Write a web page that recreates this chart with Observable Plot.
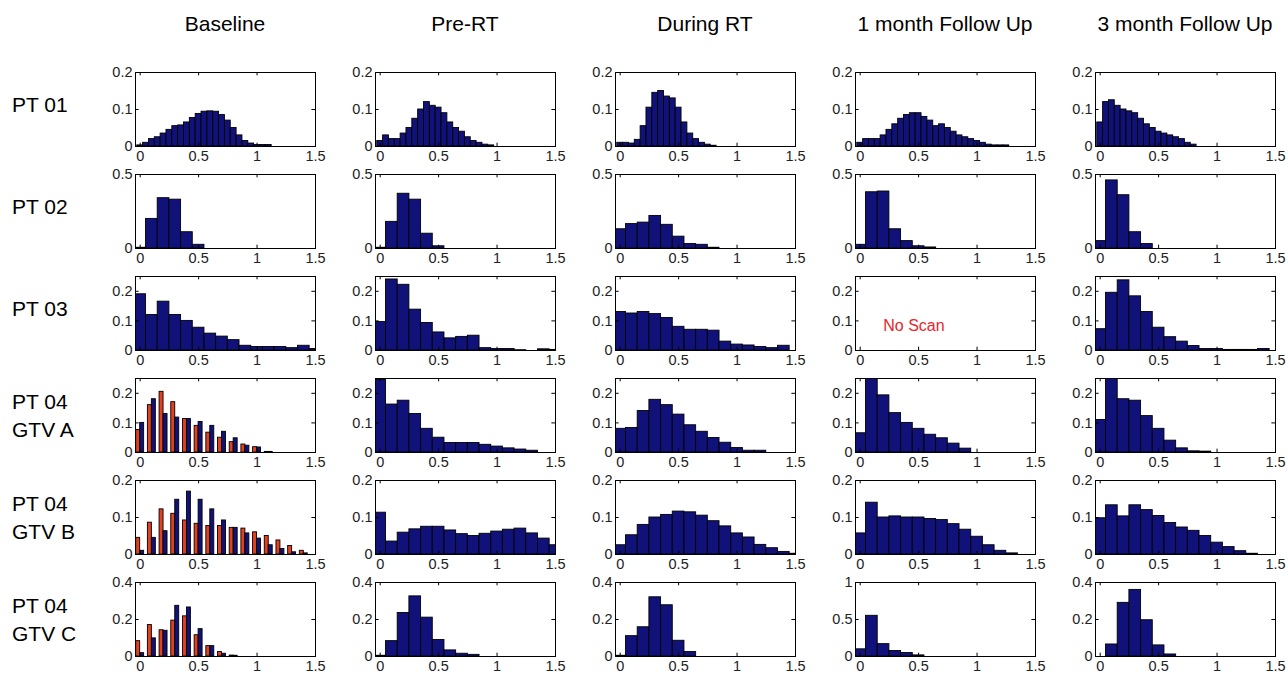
<!DOCTYPE html>
<html><head><meta charset="utf-8">
<script src="https://cdn.jsdelivr.net/npm/d3@7"></script>
<script src="https://cdn.jsdelivr.net/npm/@observablehq/plot@0.6"></script>
<style>
body{margin:0;background:#fff;}
#root{position:relative;width:1288px;height:678px;font-family:"Liberation Sans",Arial,sans-serif;color:#000;overflow:hidden;}
.coltitle{position:absolute;top:12px;font-size:21px;transform:translateX(-50%);white-space:nowrap;}
.rowlabel{position:absolute;left:12px;font-size:21px;line-height:28px;transform:translateY(-50%);white-space:nowrap;}
.panel{position:absolute;}
</style></head><body><div id="root"></div>
<script>
// ---------- labels / ticks ----------
const columns = ["Baseline", "Pre-RT", "During RT", "1 month Follow Up", "3 month Follow Up"];
const rowNames = [["PT 01"], ["PT 02"], ["PT 03"], ["PT 04", "GTV A"], ["PT 04", "GTV B"], ["PT 04", "GTV C"]];
const xTicks = [0, 0.5, 1, 1.5];
const xDomain = [-0.04, 1.5];
const yMaxByRow = [0.2, 0.5, 0.25, 0.25, 0.2, 0.4];
const yTicksByRow = [[0, 0.1, 0.2], [0, 0.5], [0, 0.1, 0.2], [0, 0.1, 0.2], [0, 0.1, 0.2], [0, 0.2, 0.4]];
const binWidthByRow = [0.05, 0.1, 0.1, 0.1, 0.1, 0.1];
const gtvCMonth1YMax = 1;
const gtvCMonth1YTicks = [0, 0.5, 1];
const noScanText = "No Scan";

// ---------- PT 01 (bin 0.05) ----------
const pt01Baseline = [0.003,0.01,0.02,0.025,0.035,0.045,0.055,0.057,0.065,0.077,0.088,0.094,0.095,0.094,0.085,0.07,0.05,0.03,0.015,0.008,0.004,0.004,0.004];
const pt01PreRT    = [0.015,0.03,0.02,0.02,0.035,0.05,0.075,0.1,0.12,0.11,0.105,0.09,0.065,0.05,0.04,0.025,0.015,0.01,0.005,0.003];
const pt01DuringRT = [0.01,0.01,0.008,0.018,0.055,0.105,0.145,0.15,0.135,0.13,0.105,0.065,0.035,0.02,0.01,0.005,0.002];
const pt01Month1   = [0.01,0.02,0.02,0.02,0.03,0.045,0.06,0.075,0.085,0.09,0.09,0.08,0.07,0.055,0.06,0.05,0.04,0.03,0.025,0.02,0.015,0.01,0.005,0.003,0.003,0.003];
const pt01Month3   = [0.065,0.12,0.125,0.11,0.1,0.095,0.09,0.075,0.06,0.05,0.04,0.035,0.03,0.025,0.02,0.01,0.005];
// ---------- PT 02 ----------
const pt02Baseline = [0.005,0.2,0.34,0.33,0.11,0.025];
const pt02PreRT    = [0.005,0.18,0.37,0.33,0.1,0.015];
const pt02DuringRT = [0.13,0.165,0.175,0.22,0.16,0.08,0.03,0.025,0.005];
const pt02Month1   = [0.025,0.38,0.385,0.13,0.05,0.015,0.007];
const pt02Month3   = [0.05,0.46,0.36,0.11,0.03];
// ---------- PT 03 ----------
const pt03Baseline = [0.19,0.12,0.165,0.12,0.1,0.077,0.057,0.047,0.035,0.016,0.012,0.012,0.012,0.008,0.016,0.005];
const pt03PreRT    = [0.096,0.24,0.222,0.138,0.093,0.061,0.041,0.046,0.05,0.008,0.005,0.005,0.001,0,0.004,0.002];
const pt03DuringRT = [0.13,0.125,0.13,0.123,0.11,0.08,0.07,0.07,0.067,0.03,0.02,0.017,0.012,0.008,0.016];
const pt03Month1   = null; // no scan
const pt03Month3   = [0.072,0.195,0.237,0.183,0.13,0.077,0.045,0.03,0.015,0.005,0.005,0.002,0.002,0.002,0.005];
// ---------- PT 04 GTV A ----------
const gtvABaselineRed  = [0.076,0.16,0.205,0.17,0.113,0.09,0.067,0.05,0.035,0.027,0.018,0.002];
const gtvABaselineBlue = [0.10,0.18,0.13,0.118,0.113,0.103,0.09,0.07,0.048,0.023,0.017,0.002];
const gtvAPreRT    = [0.245,0.162,0.175,0.13,0.08,0.05,0.032,0.032,0.032,0.026,0.02,0.014,0.01,0.006];
const gtvADuringRT = [0.08,0.083,0.14,0.178,0.16,0.128,0.092,0.07,0.049,0.033,0.015,0.006,0.006];
const gtvAMonth1   = [0.065,0.29,0.193,0.133,0.1,0.08,0.06,0.048,0.03,0.013];
const gtvAMonth3   = [0.11,0.28,0.18,0.175,0.123,0.08,0.04,0.014,0.004,0.003];
// ---------- PT 04 GTV B ----------
const gtvBBaselineRed  = [0.045,0.086,0.122,0.11,0.092,0.083,0.077,0.077,0.072,0.07,0.06,0.05,0.038,0.023,0.01];
const gtvBBaselineBlue = [0.01,0.045,0.063,0.148,0.17,0.148,0.122,0.092,0.072,0.057,0.043,0.025,0.015,0.006,0.003];
const gtvBPreRT    = [0.113,0.035,0.059,0.068,0.075,0.075,0.065,0.055,0.05,0.056,0.062,0.067,0.07,0.057,0.043,0.025];
const gtvBDuringRT = [0.025,0.052,0.08,0.1,0.107,0.116,0.114,0.105,0.09,0.076,0.057,0.046,0.026,0.017,0.007,0.002];
const gtvBMonth1   = [0.057,0.14,0.1,0.103,0.1,0.1,0.096,0.093,0.082,0.067,0.048,0.025,0.01,0.003];
const gtvBMonth3   = [0.098,0.133,0.103,0.133,0.12,0.104,0.085,0.073,0.064,0.05,0.032,0.02,0.009,0.002];
// ---------- PT 04 GTV C ----------
const gtvCBaselineRed  = [0.083,0.17,0.142,0.194,0.217,0.115,0.056,0.024,0.005];
const gtvCBaselineBlue = [0.018,0.098,0.139,0.274,0.265,0.148,0.056,0.015,0.004];
const gtvCPreRT    = [0.004,0.083,0.235,0.325,0.21,0.089,0.033,0.015,0.009];
const gtvCDuringRT = [0.004,0.11,0.158,0.32,0.277,0.085,0.024];
const gtvCMonth1   = [0.097,0.55,0.167,0.075,0.047,0.015];
const gtvCMonth3   = [0,0.065,0.29,0.36,0.196,0.06,0.011];

const panelData = [
  [pt01Baseline, pt01PreRT, pt01DuringRT, pt01Month1, pt01Month3],
  [pt02Baseline, pt02PreRT, pt02DuringRT, pt02Month1, pt02Month3],
  [pt03Baseline, pt03PreRT, pt03DuringRT, pt03Month1, pt03Month3],
  [{red: gtvABaselineRed, blue: gtvABaselineBlue}, gtvAPreRT, gtvADuringRT, gtvAMonth1, gtvAMonth3],
  [{red: gtvBBaselineRed, blue: gtvBBaselineBlue}, gtvBPreRT, gtvBDuringRT, gtvBMonth1, gtvBMonth3],
  [{red: gtvCBaselineRed, blue: gtvCBaselineBlue}, gtvCPreRT, gtvCDuringRT, gtvCMonth1, gtvCMonth3]
];

// ---------- drawing ----------
const NAVY = "#11117a", RED = "#e2401f";
const root = document.getElementById("root");
const BOX_W = 180, BOX_H = 74, ML = 45, MR = 12, MT = 8, MB = 22;

columns.forEach((name, c) => {
  const d = document.createElement("div");
  d.className = "coltitle";
  d.style.left = (135 + BOX_W / 2 + 240 * c) + "px";
  d.textContent = name;
  root.appendChild(d);
});

rowNames.forEach((lines, r) => {
  const d = document.createElement("div");
  d.className = "rowlabel";
  const top = 72 + 102 * r;
  d.style.top = (top + BOX_H / 2 + (lines.length === 1 ? -4 : 1)) + "px";
  d.innerHTML = lines.join("<br>");
  root.appendChild(d);
});

function bins(values, w) {
  return values.map((v, i) => ({x1: i * w - w / 2, x2: i * w + w / 2, y: v})).filter(d => d.y > 0);
}
function grouped(values, side) {
  const bw = 0.034;
  return values.map((v, i) => {
    const c = i * 0.1;
    return side === "red" ? {x1: c - bw, x2: c, y: v} : {x1: c, x2: c + bw, y: v};
  }).filter(d => d.y > 0);
}

for (let r = 0; r < 6; r++) {
  for (let c = 0; c < 5; c++) {
    const entry = panelData[r][c];
    let yMax = yMaxByRow[r], yTicks = yTicksByRow[r];
    if (r === 5 && c === 3) { yMax = gtvCMonth1YMax; yTicks = gtvCMonth1YTicks; }
    const w = binWidthByRow[r];
    const marks = [];
    if (entry === null) {
      marks.push(Plot.text([noScanText], {x: 0.46, y: 0.082, text: d => d, fill: "#e8262a", fontSize: 16}));
    } else if (Array.isArray(entry)) {
      marks.push(Plot.rectY(bins(entry, w), {x1: "x1", x2: "x2", y: "y", fill: NAVY, stroke: "black", strokeWidth: 0.9, clip: true}));
    } else {
      marks.push(Plot.rectY(grouped(entry.red, "red"), {x1: "x1", x2: "x2", y: "y", fill: RED, stroke: "black", strokeWidth: 0.9, clip: true}));
      marks.push(Plot.rectY(grouped(entry.blue, "blue"), {x1: "x1", x2: "x2", y: "y", fill: NAVY, stroke: "black", strokeWidth: 0.9, clip: true}));
    }
    const tx = 0.045 * yMax, ty = 0.02 * (xDomain[1] - xDomain[0]);
    marks.push(
      Plot.ruleX(xTicks, {x: d => d, y1: 0, y2: tx, stroke: "black"}),
      Plot.ruleX(xTicks, {x: d => d, y1: yMax - tx, y2: yMax, stroke: "black"}),
      Plot.ruleY(yTicks, {y: d => d, x1: xDomain[0], x2: xDomain[0] + ty, stroke: "black"}),
      Plot.ruleY(yTicks, {y: d => d, x1: xDomain[1] - ty, x2: xDomain[1], stroke: "black"}),
      Plot.frame({stroke: "black", strokeWidth: 1}),
      Plot.axisX(xTicks, {tickSize: 0, tickPadding: 4, tickFormat: d => String(d), label: null}),
      Plot.axisY(yTicks, {tickSize: 0, tickPadding: 3, tickFormat: d => String(d), label: null})
    );
    const svg = Plot.plot({
      width: ML + BOX_W + MR, height: MT + BOX_H + MB,
      marginLeft: ML, marginRight: MR, marginTop: MT, marginBottom: MB,
      x: {domain: xDomain}, y: {domain: [0, yMax]},
      style: {fontFamily: "'Liberation Sans', Arial, sans-serif", fontSize: "14.5px", background: "transparent", overflow: "visible", color: "#222"},
      marks
    });
    svg.classList.add("panel");
    svg.style.position = "absolute";
    svg.style.left = (135 + 240 * c - ML) + "px";
    svg.style.top = (72 + 102 * r - MT) + "px";
    root.appendChild(svg);
  }
}
</script></body></html>
